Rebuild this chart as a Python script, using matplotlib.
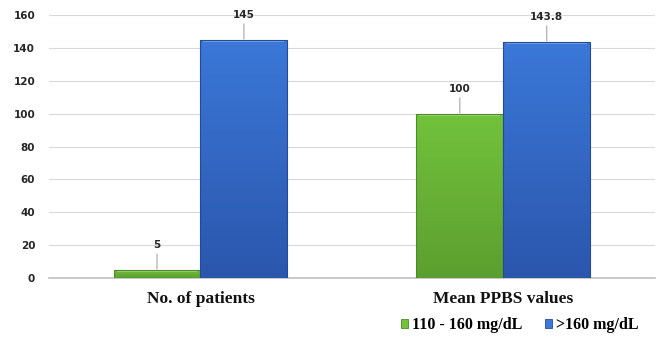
import numpy as np
import matplotlib
matplotlib.use('Agg')
from matplotlib import pyplot as plt
from matplotlib.patches import Patch
from matplotlib.colors import LinearSegmentedColormap

categories = ['No. of patients', 'Mean PPBS values']
series_names = ['110 - 160 mg/dL', '>160 mg/dL']
low_vals = [5, 100]
high_vals = [145, 143.8]
label_text = [['5', '100'], ['145', '143.8']]
y_ticks = [0, 20, 40, 60, 80, 100, 120, 140, 160]

GREEN = ('#72c23c', '#5c9f2f', '#4c8a26')   # top, bottom, edge
BLUE = ('#3b78d8', '#2b56ad', '#224a98')

fig = plt.figure(figsize=(6.58, 3.37), dpi=100)
ax = fig.add_axes([0.0745, 0.175, 0.9205, 0.7805])

x = np.arange(len(categories))
w = 0.287


def gradient_bars(xpos, vals, colors):
    bars = ax.bar(xpos, vals, w, color=colors[0], edgecolor=colors[2], linewidth=0.8, zorder=3)
    cmap = LinearSegmentedColormap.from_list('g', [colors[1], colors[0]])
    grad = np.linspace(0, 1, 256).reshape(-1, 1)
    for b in bars:
        x0, y0 = b.get_x(), b.get_y()
        im = ax.imshow(grad, cmap=cmap, origin='lower', aspect='auto',
                       extent=[x0, x0 + b.get_width(), y0, y0 + b.get_height()], zorder=3.5)
        im.set_clip_path(b)
        # bevel highlight along the top edge
        ax.plot([x0 + 0.01, x0 + b.get_width() - 0.01], [y0 + b.get_height() - 0.6] * 2,
                color='white', alpha=0.35, lw=1.2, zorder=4, solid_capstyle='butt')
        b.set_facecolor('none')
        b.set_zorder(5)
    return bars


gradient_bars(x - w / 2, low_vals, GREEN)
gradient_bars(x + w / 2, high_vals, BLUE)

for i, xi in enumerate(x):
    for j, (off, v) in enumerate([(-w / 2, low_vals[i]), (w / 2, high_vals[i])]):
        ax.annotate(label_text[j][i], xy=(xi + off, v), xytext=(0, 18), textcoords='offset points',
                    ha='center', va='center', fontsize=7.5, fontweight='bold', color='#262626',
                    family='DejaVu Sans',
                    arrowprops=dict(arrowstyle='-', color='#a6a6a6', lw=0.8, shrinkA=1, shrinkB=0.5))

ax.set_xlim(-0.5, 1.5)
ax.set_ylim(0, 160)
ax.set_yticks(y_ticks)
ax.set_yticklabels([str(t) for t in y_ticks], fontsize=7.5, fontweight='bold', color='#262626')
ax.set_xticks(x)
ax.set_xticklabels(categories, fontsize=12.5, fontweight='bold', family='Liberation Serif', color='#111111')
ax.tick_params(axis='both', length=0)
ax.tick_params(axis='y', pad=10)
ax.tick_params(axis='x', pad=9)
ax.grid(axis='y', color='#d9d9d9', lw=0.8, zorder=0)
ax.set_axisbelow(True)
for s in ['top', 'right', 'left']:
    ax.spines[s].set_visible(False)
ax.spines['bottom'].set_color('#bfbfbf')
ax.spines['bottom'].set_linewidth(1.2)

handles = [Patch(facecolor=GREEN[0], edgecolor=GREEN[2], lw=0.6),
           Patch(facecolor=BLUE[0], edgecolor=BLUE[2], lw=0.6)]
fig.legend(handles, series_names, loc='center', bbox_to_anchor=(520 / 658, 1 - 325 / 337),
           ncol=2, frameon=False, handlelength=0.45, handleheight=0.45, handletextpad=0.25,
           columnspacing=1.4, prop={'family': 'Liberation Serif', 'weight': 'bold', 'size': 11.5})

fig.savefig('out.png', dpi=100)
